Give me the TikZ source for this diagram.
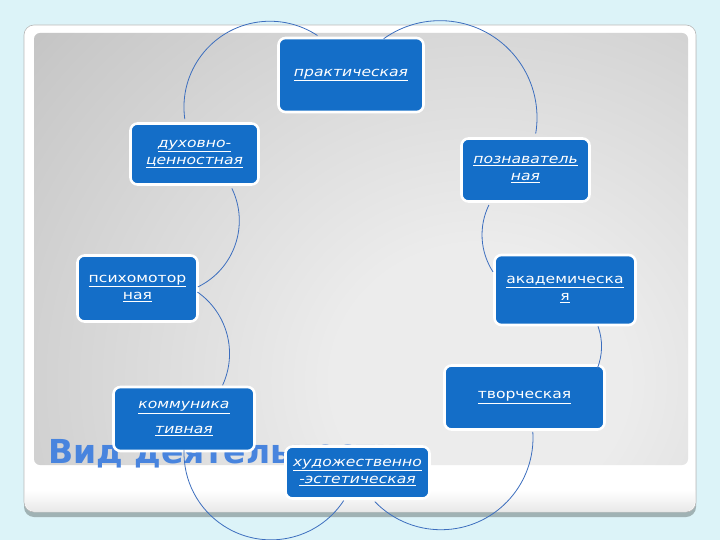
\documentclass[tikz,border=0pt]{standalone}
\usepackage{fontspec}
\setmainfont{DejaVu Sans}
\newfontfamily\nf[FakeStretch=1.2]{DejaVu Sans}
\newfontfamily\tf{DejaVu Sans}
\usetikzlibrary{calc}
\definecolor{bgc}{RGB}{220,243,248}
\definecolor{nodeblue}{RGB}{20,110,200}
\definecolor{arcblue}{RGB}{60,110,190}
\definecolor{titleblue}{RGB}{72,132,222}
\definecolor{pLight}{RGB}{236,236,236}
\definecolor{pMid}{RGB}{200,200,200}
\definecolor{pDark}{RGB}{160,160,160}
\definecolor{shadowc}{RGB}{160,178,180}
\pgfdeclareradialshading{panelglow}{\pgfpoint{0bp}{0bp}}{color(0bp)=(pLight); color(8bp)=(pLight); color(30bp)=(pMid); color(50bp)=(pDark)}
\newcommand\ulin[1]{\setbox0\hbox{#1}\leavevmode\rlap{\vrule width \wd0 height \dimexpr-\dp0-1.3pt\relax depth \dimexpr\dp0+2.4pt\relax}\box0}
\begin{document}
\begin{tikzpicture}[x=1pt,y=-1pt,
  box/.style={draw=white, line width=2.6pt, fill=nodeblue, rounded corners=7pt, text=white, align=center, inner sep=0pt},
  itx/.style={font=\nf\itshape\fontsize{13}{17}\selectfont},
  upx/.style={font=\nf\fontsize{13}{17}\selectfont},
  cyc/.style={draw=arcblue, line width=0.8pt}]
\useasboundingbox (0,0) rectangle (720,540);
\fill[bgc] (0,0) rectangle (720,540);
% frame
\fill[shadowc, rounded corners=10pt] (24,30) rectangle (696,517);
\filldraw[fill=white, draw=gray!55, line width=0.6pt, rounded corners=10pt] (24,25) rectangle (696,512);
\begin{scope}
\clip[rounded corners=10pt] (25,480) rectangle (695,511.5);
\shade[top color=white, bottom color=gray!18] (25,490) rectangle (695,512);
\end{scope}
\begin{scope}
\clip[rounded corners=6pt] (34,33) rectangle (688,465);
\shade[shading=panelglow] (20,-40) rectangle (940,800);
\end{scope}
% title
\node[font=\tf\bfseries\fontsize{33}{33}\selectfont, text=titleblue, anchor=base west, inner sep=0pt] (title) at (48,463) {Вид деятельности};
% nodes
\node[box,itx, minimum width=145, minimum height=74] (prak) at (351,75) {\ulin{практическая}};
\node[box,itx, minimum width=128, minimum height=61] (dukh) at (194.5,154) {\ulin{духовно-}\\\ulin{ценностная}};
\node[box,itx, minimum width=128, minimum height=63] (pozn) at (525.5,170) {\ulin{познаватель}\\\ulin{ная}};
\node[box,upx, minimum width=120, minimum height=66] (psikh) at (137.5,288.5) {\ulin{психомотор}\\\ulin{ная}};
\node[box,upx, minimum width=141, minimum height=70] (akad) at (565,290) {\ulin{академическа}\\\ulin{я}};
\node[box,upx, minimum width=160, minimum height=64] (tvor) at (524.5,397.5) {\ulin{творческая}};
\node[box,font=\nf\itshape\fontsize{13}{25}\selectfont, minimum width=141, minimum height=64] (komm) at (184,419) {\ulin{коммуника}\\\ulin{тивная}};
\node[box,itx, minimum width=144, minimum height=52] (khud) at (357.5,472.5) {\ulin{художественно}\\\ulin{-эстетическая}};
% arcs
\draw[cyc] (dukh.north) ++(-9.7,-3) arc[start angle=172, end angle=303.5, radius=86];
\draw[cyc] (prak.north) ++(32.7,2) arc[start angle=234.5, end angle=369.5, radius=97];
\draw[cyc] (pozn.south) ++(-36.6,2.2) arc[start angle=206, end angle=147, radius=68];
\draw[cyc] (akad.south) ++(33,0) arc[start angle=-20, end angle=22, radius=59];
\draw[cyc] (tvor.south) ++(8.3,1) arc[start angle=-3.7, end angle=136, radius=92];
\draw[cyc] (khud.south) ++(-13.8,0.8) arc[start angle=33.3, end angle=182, radius=87];
\draw[cyc] (komm.north) ++(38.6,-0.5) arc[start angle=24.8, end angle=-55, radius=75.2];
\draw[cyc] (psikh.east) ++(-0.9,-1.6) arc[start angle=64, end angle=-26, radius=73.7];
\end{tikzpicture}
\end{document}
